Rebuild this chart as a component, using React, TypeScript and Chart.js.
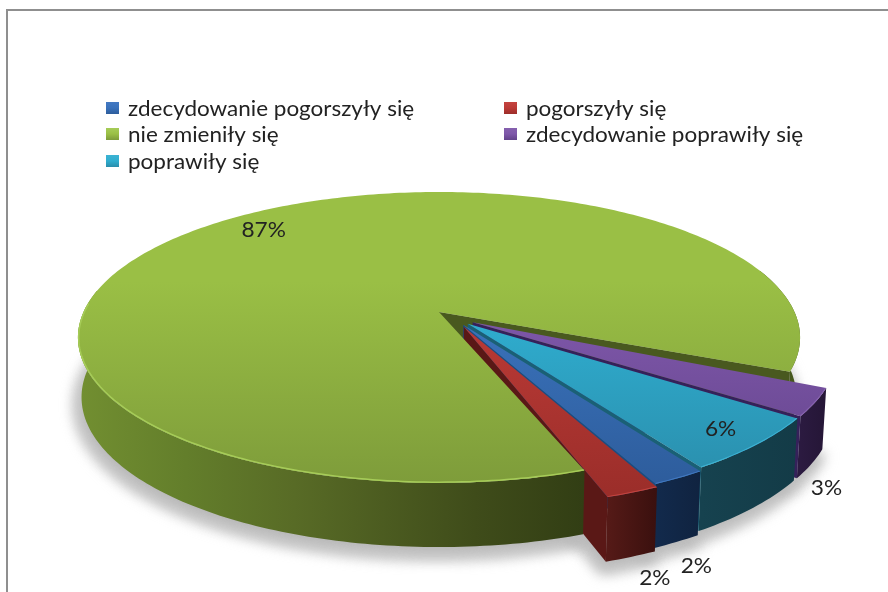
import React, { useEffect, useRef } from "react";
import { Chart, registerables } from "chart.js";

Chart.register(...registerables);

const CATEGORIES = [
  "zdecydowanie pogorszyły się",
  "pogorszyły się",
  "nie zmieniły się",
  "zdecydowanie poprawiły się",
  "poprawiły się",
];
const VALUES = [2, 2, 87, 3, 6];
const VALUE_LABELS = ["2%", "2%", "87%", "3%", "6%"];
const BASE_COLORS = ["#3a72bb", "#bb3a36", "#9abf45", "#7e57a9", "#2fadcf"];
const EXPLODE = [0.111, 0.124, 0, 0.118, 0.114];
const SLICE_RADIUS = [1.015, 1.015, 1, 0.995, 1.0];
const LABEL_NUDGE = [[20, 24], [24, 21], [10, -4], [15, 24], [0, 0]];

const TOP_DARK = ["#2d5c9b", "#9c2e2a", "#7d9b3a", "#62438a", "#2a8dab"];
const WALL_LEFT = ["#122a4c", "#551a17", "#728f31", "#2b1a40", "#16424f"];
const WALL_RIGHT = ["#102340", "#3a100e", "#3f4f1a", "#251636", "#133b47"];
const CUT_COLORS = ["#1d4a80", "#5a1816", "#49591f", "#35215a", "#1a6075"];
const RIM_COLORS = ["#4379c2", "#c4443f", "#a6cc58", "#8560ae", "#3cb3d3"];
const FONT = '"Lato", "Open Sans", sans-serif';

const AX = 439, AY = 312, P = 0.175, A = 355.5, B = 141;
const BASE_XS = 0.99, BASE_YS = 1.03, BASE_H = 59;
const TILT = (1.8 * Math.PI) / 180;

type Pt = [number, number];
const project = (u: number, v: number): Pt => {
  const d = 1 - P * v;
  return [AX + (A * u) / d, AY + (B * v) / d];
};
const toBase = (p: Pt): Pt => [AX + BASE_XS * (p[0] - AX), AY + BASE_YS * (p[1] - AY) + BASE_H];

const pie3d = {
  id: "pie3d",
  beforeDatasetsDraw(chart: any) {
    const ctx: CanvasRenderingContext2D = chart.ctx;
    const arcs = chart.getDatasetMeta(0).data.map((el: any) => ({ a: el.startAngle, b: el.endAngle }));
    const MAIN = VALUES.indexOf(Math.max(...VALUES));
    const mid = (i: number) => (arcs[i].a + arcs[i].b) / 2;
    const gapCentre = mid(MAIN) - Math.PI;
    const disc = (i: number, t: number, r = SLICE_RADIUS[i]): Pt => {
      const small = i !== MAIN;
      const delta = Math.atan2(Math.sin(mid(i) - gapCentre), Math.cos(mid(i) - gapCentre));
      const dir = small ? gapCentre + 0.5 * delta : 0;
      const ang = t + (small ? TILT : 0);
      return project(r * Math.cos(ang) + EXPLODE[i] * Math.cos(dir), r * Math.sin(ang) + EXPLODE[i] * Math.sin(dir));
    };
    const rimBetween = (i: number, from: number, to: number): Pt[] => {
      const out: Pt[] = [];
      const n = Math.max(4, Math.ceil(((to - from) * 180) / Math.PI));
      for (let k = 0; k <= n; k++) out.push(disc(i, from + ((to - from) * k) / n));
      return out;
    };
    const rim = (i: number) => rimBetween(i, arcs[i].a, arcs[i].b);
    const poly = (pts: Pt[]) => {
      ctx.beginPath();
      pts.forEach((p, k) => (k ? ctx.lineTo(p[0], p[1]) : ctx.moveTo(p[0], p[1])));
      ctx.closePath();
    };
    const stretched = (text: string, x: number, y: number, sx: number) => {
      ctx.save();
      ctx.translate(x, y);
      ctx.scale(sx, 1);
      ctx.fillText(text, 0, 0);
      ctx.restore();
    };

    ctx.save();
    // frame
    ctx.strokeStyle = "#8f8f8f";
    ctx.lineWidth = 2;
    ctx.beginPath();
    ctx.moveTo(7, 592);
    ctx.lineTo(7, 10);
    ctx.lineTo(888, 10);
    ctx.stroke();

    // soft shadow
    ctx.save();
    ctx.filter = "blur(7px)";
    ctx.fillStyle = "#b4b4b4";
    ctx.strokeStyle = "#b4b4b4";
    ctx.lineWidth = 8;
    ctx.translate(-3, 8);
    arcs.forEach((_: any, i: number) => {
      poly([toBase(disc(i, 0, 0)), ...rim(i).map(toBase)]);
      ctx.fill();
      ctx.stroke();
    });
    ctx.restore();

    const mainWall = ctx.createLinearGradient(78, 0, 800, 0);
    mainWall.addColorStop(0, "#728f31");
    mainWall.addColorStop(0.15, "#637e2b");
    mainWall.addColorStop(0.3, "#586b26");
    mainWall.addColorStop(0.55, "#3f4c1a");
    mainWall.addColorStop(0.7, "#323e14");
    mainWall.addColorStop(1, "#46581d");
    const wallOf = (i: number, pts: Pt[]) => {
      ctx.fillStyle = i === MAIN ? mainWall : (() => {
        const g = ctx.createLinearGradient(pts[pts.length - 1][0], 0, pts[0][0], 0);
        g.addColorStop(0, WALL_LEFT[i]);
        g.addColorStop(1, WALL_RIGHT[i]);
        return g;
      })();
      poly([...pts, ...pts.slice().reverse().map(toBase)]);
      ctx.fill();
    };
    const cutOf = (i: number) => {
      const r = rim(i);
      const apex = disc(i, 0, 0);
      const end = r[r.length - 1];
      ctx.fillStyle = CUT_COLORS[i];
      poly([apex, end, toBase(end), toBase(apex)]);
      ctx.fill();
    };
    const drawTop = (i: number) => {
      const r = rim(i);
      const apex = disc(i, 0, 0);
      const top = ctx.createLinearGradient(0, 192, 0, 490);
      top.addColorStop(0, BASE_COLORS[i]);
      top.addColorStop(i === MAIN ? 0.3 : 0.42, BASE_COLORS[i]);
      top.addColorStop(1, TOP_DARK[i]);
      ctx.fillStyle = top;
      poly([apex, ...r]);
      ctx.fill();
      ctx.save();
      poly([apex, ...r]);
      ctx.clip();
      ctx.strokeStyle = RIM_COLORS[i];
      ctx.lineWidth = i === MAIN ? 3 : 2;
      ctx.filter = "blur(0.7px)";
      const front = i === MAIN ? rimBetween(i, arcs[i].a, Math.PI * 1.02) : r;
      ctx.beginPath();
      front.forEach((p, k) => (k ? ctx.lineTo(p[0], p[1]) : ctx.moveTo(p[0], p[1])));
      ctx.stroke();
      ctx.restore();
    };

    // right-hand part of the big slice sits behind the pulled-out slices
    wallOf(MAIN, rimBetween(MAIN, Math.PI * 1.9, arcs[MAIN].b));
    cutOf(MAIN);
    [3, 4, 0, 1].forEach((i) => {
      wallOf(i, rim(i));
      cutOf(i);
      drawTop(i);
    });
    // its front part hides the cut face of the neighbouring slice
    wallOf(MAIN, rimBetween(MAIN, arcs[MAIN].a, Math.PI * 1.05));
    drawTop(MAIN);

    // value labels
    ctx.filter = "blur(0.4px)";
    ctx.font = `21px ${FONT}`;
    ctx.fillStyle = "#222222";
    ctx.textAlign = "center";
    ctx.textBaseline = "middle";
    VALUE_LABELS.forEach((text, i) => {
      let p: Pt;
      if (i === MAIN) p = disc(i, mid(i), 0.84);
      else if (i === 4) p = disc(i, mid(i), 0.89);
      else p = toBase(disc(i, mid(i)));
      stretched(text, p[0] + LABEL_NUDGE[i][0], p[1] + LABEL_NUDGE[i][1], 1.08);
    });

    // legend
    const legendSlots: Pt[] = [[106, 108], [504, 108], [106, 134], [504, 134], [106, 161]];
    ctx.textAlign = "left";
    CATEGORIES.forEach((name, i) => {
      const [x, y] = legendSlots[i];
      ctx.filter = "none";
      const g = ctx.createLinearGradient(0, y - 6, 0, y + 6);
      g.addColorStop(0, RIM_COLORS[i]);
      g.addColorStop(0.5, BASE_COLORS[i]);
      g.addColorStop(1, TOP_DARK[i]);
      ctx.fillStyle = g;
      ctx.fillRect(x, y - 6, 13, 12);
      ctx.filter = "blur(0.4px)";
      ctx.fillStyle = "#222222";
      stretched(name, x + 22, y + 1, 1.07);
    });
    ctx.restore();
    return false;
  },
};

export default function App() {
  const ref = useRef<HTMLCanvasElement>(null);
  useEffect(() => {
    const chart = new Chart(ref.current as HTMLCanvasElement, {
      type: "pie",
      data: {
        labels: CATEGORIES,
        datasets: [{ data: VALUES, backgroundColor: BASE_COLORS }],
      },
      options: {
        responsive: false,
        animation: false,
        rotation: 145.6,
        plugins: { legend: { display: false }, tooltip: { enabled: false } },
      },
      plugins: [pie3d],
    } as any);
    return () => chart.destroy();
  }, []);
  return (
    <div style={{ position: "fixed", left: 0, top: 0, width: 888, height: 592, background: "#fff" }}>
      <canvas ref={ref} width={888} height={592} style={{ display: "block" }} />
    </div>
  );
}
